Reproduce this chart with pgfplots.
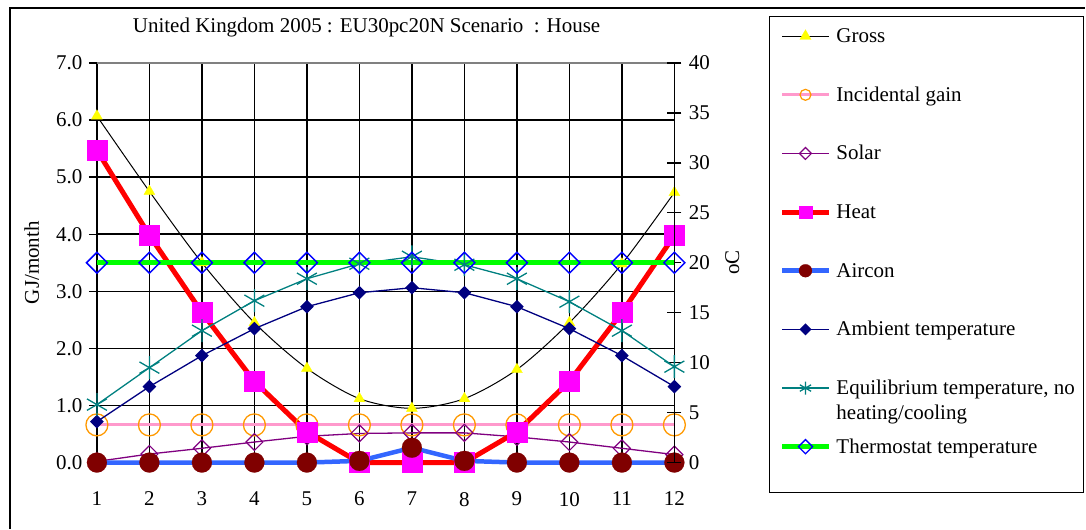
\documentclass[border=0pt]{standalone}
\usepackage{fontspec}
\setmainfont{Liberation Serif}
\usepackage{pgfplots}
\pgfplotsset{compat=1.18}

\definecolor{pinkline}{HTML}{FF99CC}
\definecolor{orangemk}{HTML}{FF9900}
\definecolor{purplec}{HTML}{800080}
\definecolor{heatline}{HTML}{FF0000}
\definecolor{heatmk}{HTML}{FF00FF}
\definecolor{airline}{HTML}{3366FF}
\definecolor{airmk}{HTML}{800000}
\definecolor{navyc}{HTML}{000080}
\definecolor{tealc}{HTML}{008080}
\definecolor{greenc}{HTML}{00FF00}
\definecolor{bluemk}{HTML}{0000FF}
\definecolor{yellowmk}{HTML}{FFFF00}

\newcommand\txt{\fontsize{21}{25}\selectfont}
\newcommand\tck{\fontsize{21}{25}\selectfont}

\begin{document}
\begin{tikzpicture}[x=1pt,y=1pt]
\path (0,0) rectangle (1086,529);
% outer chart frame and legend frame
\draw[line width=2pt] (10,0) -- (10,521) -- (1086,521);
\draw[line width=1pt] (770,36) rectangle (1084.5,512);

% primary axis: GJ/month
\begin{axis}[
  at={(97pt,66pt)}, anchor=south west,
  scale only axis, width=578pt, height=400pt,
  xmin=1, xmax=12, ymin=0, ymax=7,
  clip=false,
  axis x line*=bottom, axis y line*=left,
  axis line style={black, line width=1.4pt},
  xtick={1,...,12}, ytick={0,...,7},
  xtick style={draw=none},
  ytick style={black, line width=1.4pt},
  tick align=outside, major tick length=8pt,
  grid=major, grid style={black, line width=1.5pt},
  yticklabel style={xshift=-3pt, /pgf/number format/.cd, fixed, fixed zerofill, precision=1},
  /pgf/number format/assume math mode=true,
  tick label style={font=\tck},
  xticklabel style={yshift=-18pt},
  ylabel={GJ/month},
  every axis y label/.style={at={(axis description cs:-0.113,0.5)}, rotate=90, anchor=center, font=\txt},
  title={United Kingdom 2005 : EU30pc20N Scenario\ \ : House},
  title style={at={(axis description cs:0.467,1.06)}, anchor=base, font=\txt},
]
\draw[gray, line width=1.5pt] (rel axis cs:0,1) -- (rel axis cs:1,1);

% Gross
\addplot[black, line width=1pt, smooth, mark=triangle*, mark size=6.4pt,
  mark options={fill=yellowmk, draw=yellowmk, line width=0.2pt}] coordinates {
  (1,6.07) (2,4.75) (3,3.50) (4,2.45) (5,1.65) (6,1.12)
  (7,0.95) (8,1.12) (9,1.63) (10,2.45) (11,3.48) (12,4.73)
};
% Incidental gain
\addplot[pinkline, line width=3pt, mark=o, mark size=11pt,
  mark options={draw=orangemk, line width=1.3pt}] coordinates {
  (1,0.66) (2,0.66) (3,0.66) (4,0.66) (5,0.66) (6,0.66)
  (7,0.66) (8,0.66) (9,0.66) (10,0.66) (11,0.66) (12,0.66)
};
% Solar
\addplot[purplec, line width=1.3pt, mark=square, mark size=6pt,
  mark options={rotate=45, line width=1.2pt}] coordinates {
  (1,0.02) (2,0.15) (3,0.25) (4,0.36) (5,0.46) (6,0.51)
  (7,0.52) (8,0.52) (9,0.45) (10,0.36) (11,0.25) (12,0.14)
};
% Heat
\addplot[heatline, line width=5pt, mark=square*, mark size=10pt,
  mark options={fill=heatmk, draw=heatmk, line width=0.2pt}] coordinates {
  (1,5.47) (2,3.98) (3,2.63) (4,1.42) (5,0.54) (6,0)
  (7,0) (8,0) (9,0.54) (10,1.42) (11,2.63) (12,3.98)
};
% Aircon
\addplot[airline, line width=4.5pt, mark=*, mark size=10pt,
  mark options={fill=airmk, draw=airmk, line width=0.2pt}] coordinates {
  (1,0) (2,0) (3,0) (4,0) (5,0) (6,0.03)
  (7,0.26) (8,0.03) (9,0) (10,0) (11,0) (12,0)
};
\end{axis}

% secondary axis: oC
\begin{axis}[
  at={(97pt,66pt)}, anchor=south west,
  scale only axis, width=578pt, height=400pt,
  xmin=1, xmax=12, ymin=0, ymax=40,
  clip=false,
  axis x line=none, xtick=\empty,
  axis y line*=right,
  axis line style={black, line width=1.4pt},
  ytick={0,5,...,40},
  tick align=center, major tick length=14pt,
  ytick style={black, line width=1.4pt},
  yticklabel style={xshift=4pt},
  /pgf/number format/assume math mode=true,
  tick label style={font=\tck},
  ylabel={oC},
  every axis y label/.style={at={(axis description cs:1.1003,0.5)}, rotate=90, anchor=center, font=\txt},
  legend cell align=left,
  legend style={at={(axis description cs:1.1817,1.09125)}, anchor=north west,
    draw=none, fill=none, inner sep=0pt, row sep=39.7pt, column sep=5pt,
    nodes={inner sep=0pt, text height=16pt, text depth=3pt, font=\txt}},
  legend image code/.code={%
    \draw[mark repeat=2, mark phase=2, #1] plot coordinates {(0pt,0pt) (23.5pt,0pt) (47pt,0pt)};},
]
\addlegendimage{black, line width=1pt, mark=triangle*, mark size=6.5pt,
  mark options={fill=yellowmk, draw=yellowmk, line width=0.2pt}}
\addlegendentry{Gross}
\addlegendimage{pinkline, line width=3pt, mark=o, mark size=5.5pt,
  mark options={draw=orangemk, line width=1.2pt}}
\addlegendentry{Incidental gain}
\addlegendimage{purplec, line width=1.3pt, mark=square, mark size=4.2pt,
  mark options={rotate=45, line width=1.2pt}}
\addlegendentry{Solar}
\addlegendimage{heatline, line width=5pt, mark=square*, mark size=6.5pt,
  mark options={fill=heatmk, draw=heatmk, line width=0.2pt}}
\addlegendentry{Heat}
\addlegendimage{airline, line width=5pt, mark=*, mark size=6.5pt,
  mark options={fill=airmk, draw=airmk, line width=0.2pt}}
\addlegendentry{Aircon}
\addlegendimage{navyc, line width=1.3pt, mark=square*, mark size=3.6pt,
  mark options={rotate=45, fill=navyc}}
\addlegendentry{Ambient temperature}
\addlegendimage{tealc, line width=1.3pt, mark=asterisk, mark size=6.5pt}
\addlegendentry{\rlap{\raisebox{-25pt}[0pt][0pt]{heating/cooling}}Equilibrium temperature, no}
\addlegendimage{greenc, line width=5pt, mark=square, mark size=5pt,
  mark options={rotate=45, draw=bluemk, line width=1.3pt}}
\addlegendentry{Thermostat temperature}

% Ambient temperature
\addplot[forget plot, navyc, line width=1.3pt, mark=square*, mark size=4.2pt,
  mark options={rotate=45, fill=navyc}] coordinates {
  (1,4.1) (2,7.6) (3,10.7) (4,13.4) (5,15.6) (6,17.0)
  (7,17.5) (8,17.0) (9,15.6) (10,13.4) (11,10.7) (12,7.6)
};
% Equilibrium temperature
\addplot[forget plot, tealc, line width=1.3pt, mark=asterisk, mark size=11.5pt] coordinates {
  (1,5.8) (2,9.5) (3,13.2) (4,16.2) (5,18.4) (6,19.9)
  (7,20.6) (8,19.8) (9,18.4) (10,16.1) (11,13.2) (12,9.6)
};
% Thermostat temperature
\addplot[forget plot, greenc, line width=5pt, mark=square, mark size=7.4pt,
  mark options={rotate=45, draw=bluemk, line width=1.5pt}] coordinates {
  (1,20) (2,20) (3,20) (4,20) (5,20) (6,20)
  (7,20) (8,20) (9,20) (10,20) (11,20) (12,20)
};
\end{axis}
\end{tikzpicture}
\end{document}
